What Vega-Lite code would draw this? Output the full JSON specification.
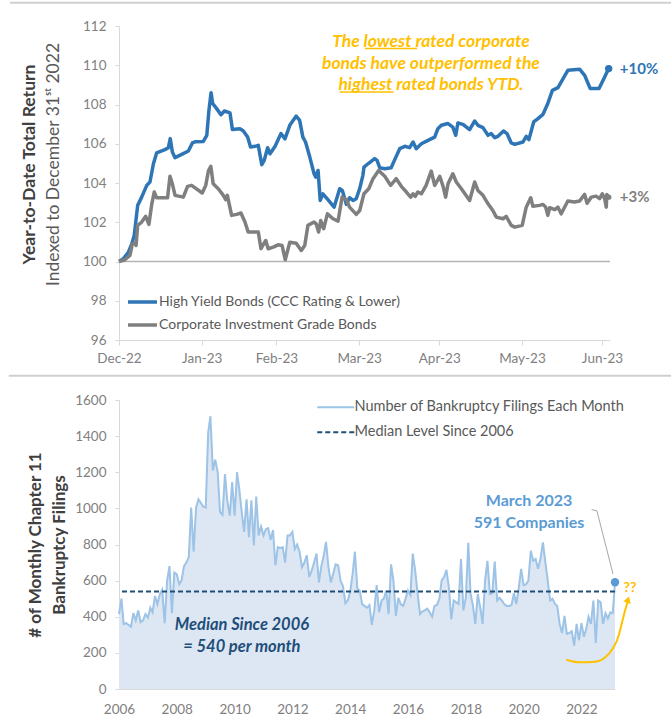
{
  "$schema": "https://vega.github.io/schema/vega-lite/v6.json",
  "padding": {"left": 7, "top": 1, "right": 0, "bottom": 0},
  "spacing": 9,
  "resolve": {"scale": {"color": "independent", "strokeDash": "independent"}, "legend": {"color": "independent", "strokeDash": "independent"}},
  "config": {
    "font": "Lato",
    "view": {"stroke": null},
    "axis": {"labelFont": "Lato", "titleFont": "Lato", "labelColor": "#808080", "labelFontSize": 13.5, "domainColor": "#d9d9d9", "tickColor": "#d9d9d9", "grid": false, "labelOverlap": false, "labelFlush": false},
    "legend": {"labelFont": "Lato", "labelColor": "#595959", "labelLimit": 500}
  },
  "datasets": {
    "bonds": [
      {"s":"HY","t":0,"v":100},{"s":"HY","t":1.6,"v":100.14},{"s":"HY","t":3.5,"v":100.47},{"s":"HY","t":4.8,"v":100.9},{"s":"HY","t":5.7,"v":101.33},{"s":"HY","t":7.0,"v":102.86},{"s":"HY","t":8.5,"v":103.28},{"s":"HY","t":10.4,"v":103.88},{"s":"HY","t":11.6,"v":104.05},{"s":"HY","t":12.9,"v":104.98},{"s":"HY","t":14.1,"v":105.53},{"s":"HY","t":17.2,"v":105.7},{"s":"HY","t":18.5,"v":105.8},{"s":"HY","t":19.2,"v":106.26},{"s":"HY","t":20.0,"v":105.58},{"s":"HY","t":21.0,"v":105.29},{"s":"HY","t":23.5,"v":105.46},{"s":"HY","t":26.0,"v":105.63},{"s":"HY","t":27.5,"v":106.04},{"s":"HY","t":28.5,"v":106.1},{"s":"HY","t":31.6,"v":106.12},{"s":"HY","t":32.9,"v":106.43},{"s":"HY","t":33.7,"v":107.7},{"s":"HY","t":34.5,"v":108.6},{"s":"HY","t":35.1,"v":108.05},{"s":"HY","t":36.6,"v":107.79},{"s":"HY","t":38.2,"v":107.48},{"s":"HY","t":39.5,"v":107.67},{"s":"HY","t":41.6,"v":107.57},{"s":"HY","t":42.5,"v":106.73},{"s":"HY","t":45.3,"v":106.77},{"s":"HY","t":46.6,"v":106.65},{"s":"HY","t":48.2,"v":106.34},{"s":"HY","t":49.3,"v":105.83},{"s":"HY","t":51.0,"v":105.87},{"s":"HY","t":52.2,"v":105.92},{"s":"HY","t":53.5,"v":104.93},{"s":"HY","t":54.4,"v":105.15},{"s":"HY","t":55.7,"v":105.8},{"s":"HY","t":56.6,"v":105.49},{"s":"HY","t":58.5,"v":105.87},{"s":"HY","t":60.7,"v":106.52},{"s":"HY","t":62.2,"v":106.25},{"s":"HY","t":64.0,"v":106.94},{"s":"HY","t":66.4,"v":107.41},{"s":"HY","t":67.7,"v":107.19},{"s":"HY","t":68.9,"v":106.34},{"s":"HY","t":69.9,"v":106.09},{"s":"HY","t":71.5,"v":105.32},{"s":"HY","t":73.1,"v":104.47},{"s":"HY","t":73.7,"v":104.3},{"s":"HY","t":74.6,"v":104.64},{"s":"HY","t":75.4,"v":103.11},{"s":"HY","t":76.4,"v":103.45},{"s":"HY","t":78.3,"v":103.15},{"s":"HY","t":80.6,"v":102.77},{"s":"HY","t":82.7,"v":103.71},{"s":"HY","t":83.7,"v":103.62},{"s":"HY","t":85.2,"v":102.91},{"s":"HY","t":86.4,"v":103.25},{"s":"HY","t":87.7,"v":103.11},{"s":"HY","t":88.9,"v":103.2},{"s":"HY","t":90.2,"v":103.71},{"s":"HY","t":91.4,"v":104.39},{"s":"HY","t":91.8,"v":104.81},{"s":"HY","t":93.3,"v":104.98},{"s":"HY","t":95.8,"v":105.24},{"s":"HY","t":96.7,"v":105.15},{"s":"HY","t":97.7,"v":104.78},{"s":"HY","t":99.6,"v":104.73},{"s":"HY","t":102.0,"v":104.78},{"s":"HY","t":103.5,"v":105.24},{"s":"HY","t":105.2,"v":105.75},{"s":"HY","t":107.1,"v":105.87},{"s":"HY","t":108.9,"v":105.8},{"s":"HY","t":110.2,"v":106.09},{"s":"HY","t":111.4,"v":105.75},{"s":"HY","t":113.3,"v":106.0},{"s":"HY","t":115.8,"v":106.17},{"s":"HY","t":118.3,"v":106.34},{"s":"HY","t":119.5,"v":106.77},{"s":"HY","t":120.8,"v":106.94},{"s":"HY","t":123.3,"v":107.03},{"s":"HY","t":125.1,"v":106.85},{"s":"HY","t":126.2,"v":106.43},{"s":"HY","t":127.0,"v":107.06},{"s":"HY","t":128.9,"v":106.99},{"s":"HY","t":131.4,"v":106.72},{"s":"HY","t":133.3,"v":107.16},{"s":"HY","t":134.5,"v":106.94},{"s":"HY","t":136.4,"v":106.82},{"s":"HY","t":138.3,"v":106.43},{"s":"HY","t":139.5,"v":106.52},{"s":"HY","t":140.8,"v":106.31},{"s":"HY","t":142.0,"v":106.38},{"s":"HY","t":144.1,"v":106.65},{"s":"HY","t":145.4,"v":106.52},{"s":"HY","t":147.0,"v":106.04},{"s":"HY","t":148.3,"v":105.97},{"s":"HY","t":151.4,"v":106.09},{"s":"HY","t":152.6,"v":106.38},{"s":"HY","t":153.6,"v":106.21},{"s":"HY","t":155.4,"v":107.11},{"s":"HY","t":157.0,"v":107.28},{"s":"HY","t":158.9,"v":107.5},{"s":"HY","t":160.7,"v":108.05},{"s":"HY","t":162.4,"v":108.72},{"s":"HY","t":164.5,"v":108.86},{"s":"HY","t":168.2,"v":109.74},{"s":"HY","t":172.6,"v":109.8},{"s":"HY","t":174.5,"v":109.49},{"s":"HY","t":176.6,"v":108.81},{"s":"HY","t":179.9,"v":108.81},{"s":"HY","t":182.0,"v":109.4},{"s":"HY","t":183.5,"v":109.83},
      {"s":"IG","t":0,"v":100},{"s":"IG","t":2.2,"v":100.09},{"s":"IG","t":4.1,"v":100.31},{"s":"IG","t":5.0,"v":100.9},{"s":"IG","t":6.0,"v":100.94},{"s":"IG","t":6.4,"v":100.82},{"s":"IG","t":7.0,"v":101.84},{"s":"IG","t":8.5,"v":102.01},{"s":"IG","t":10.0,"v":102.3},{"s":"IG","t":11.2,"v":101.89},{"s":"IG","t":12.3,"v":102.94},{"s":"IG","t":13.2,"v":103.54},{"s":"IG","t":14.1,"v":103.25},{"s":"IG","t":18.2,"v":103.25},{"s":"IG","t":19.1,"v":104.34},{"s":"IG","t":20.0,"v":103.96},{"s":"IG","t":21.0,"v":103.37},{"s":"IG","t":24.1,"v":103.28},{"s":"IG","t":25.7,"v":103.83},{"s":"IG","t":27.2,"v":103.88},{"s":"IG","t":31.2,"v":103.49},{"s":"IG","t":32.5,"v":103.88},{"s":"IG","t":33.5,"v":104.61},{"s":"IG","t":34.4,"v":104.85},{"s":"IG","t":35.3,"v":103.96},{"s":"IG","t":37.2,"v":103.71},{"s":"IG","t":39.1,"v":103.37},{"s":"IG","t":40.0,"v":103.15},{"s":"IG","t":40.6,"v":103.37},{"s":"IG","t":42.2,"v":102.35},{"s":"IG","t":44.1,"v":102.4},{"s":"IG","t":45.7,"v":102.47},{"s":"IG","t":47.2,"v":102.01},{"s":"IG","t":48.4,"v":101.5},{"s":"IG","t":52.2,"v":101.5},{"s":"IG","t":53.2,"v":100.65},{"s":"IG","t":54.1,"v":100.87},{"s":"IG","t":55.0,"v":101.07},{"s":"IG","t":55.9,"v":100.65},{"s":"IG","t":57.8,"v":100.73},{"s":"IG","t":59.6,"v":100.85},{"s":"IG","t":61.1,"v":100.82},{"s":"IG","t":62.3,"v":100.09},{"s":"IG","t":64.0,"v":100.98},{"s":"IG","t":66.4,"v":100.93},{"s":"IG","t":68.3,"v":100.56},{"s":"IG","t":69.6,"v":100.82},{"s":"IG","t":70.8,"v":101.84},{"s":"IG","t":73.1,"v":102.01},{"s":"IG","t":73.9,"v":101.92},{"s":"IG","t":74.8,"v":101.5},{"s":"IG","t":75.6,"v":102.09},{"s":"IG","t":76.7,"v":101.67},{"s":"IG","t":78.1,"v":102.43},{"s":"IG","t":80.2,"v":102.18},{"s":"IG","t":82.1,"v":102.06},{"s":"IG","t":83.6,"v":103.28},{"s":"IG","t":85.2,"v":103.15},{"s":"IG","t":86.4,"v":102.77},{"s":"IG","t":88.9,"v":102.4},{"s":"IG","t":90.2,"v":102.6},{"s":"IG","t":91.8,"v":103.45},{"s":"IG","t":93.6,"v":103.71},{"s":"IG","t":95.2,"v":104.22},{"s":"IG","t":97.3,"v":104.64},{"s":"IG","t":99.6,"v":104.34},{"s":"IG","t":101.8,"v":103.88},{"s":"IG","t":103.9,"v":104.22},{"s":"IG","t":105.8,"v":103.83},{"s":"IG","t":107.7,"v":103.54},{"s":"IG","t":109.3,"v":103.28},{"s":"IG","t":110.2,"v":103.45},{"s":"IG","t":111.0,"v":103.32},{"s":"IG","t":112.0,"v":103.54},{"s":"IG","t":113.3,"v":103.45},{"s":"IG","t":115.1,"v":103.88},{"s":"IG","t":117.0,"v":104.61},{"s":"IG","t":118.3,"v":103.88},{"s":"IG","t":120.2,"v":104.34},{"s":"IG","t":121.4,"v":103.85},{"s":"IG","t":122.4,"v":103.28},{"s":"IG","t":123.3,"v":103.96},{"s":"IG","t":125.1,"v":104.47},{"s":"IG","t":126.4,"v":104.05},{"s":"IG","t":128.3,"v":103.71},{"s":"IG","t":131.4,"v":103.11},{"s":"IG","t":133.3,"v":104.05},{"s":"IG","t":134.5,"v":103.62},{"s":"IG","t":136.4,"v":103.37},{"s":"IG","t":138.3,"v":102.94},{"s":"IG","t":140.1,"v":102.6},{"s":"IG","t":141.4,"v":102.26},{"s":"IG","t":143.9,"v":102.18},{"s":"IG","t":145.1,"v":102.3},{"s":"IG","t":147.0,"v":101.84},{"s":"IG","t":148.3,"v":101.75},{"s":"IG","t":151.1,"v":101.84},{"s":"IG","t":152.6,"v":102.77},{"s":"IG","t":154.3,"v":103.25},{"s":"IG","t":155.1,"v":102.81},{"s":"IG","t":157.6,"v":102.86},{"s":"IG","t":158.9,"v":102.91},{"s":"IG","t":159.9,"v":102.77},{"s":"IG","t":160.7,"v":102.35},{"s":"IG","t":161.4,"v":102.74},{"s":"IG","t":163.3,"v":102.64},{"s":"IG","t":164.5,"v":102.77},{"s":"IG","t":165.7,"v":102.43},{"s":"IG","t":168.2,"v":103.08},{"s":"IG","t":170.7,"v":103.03},{"s":"IG","t":172.6,"v":103.08},{"s":"IG","t":174.5,"v":103.42},{"s":"IG","t":175.4,"v":102.97},{"s":"IG","t":177.0,"v":103.28},{"s":"IG","t":178.8,"v":103.33},{"s":"IG","t":180.1,"v":103.2},{"s":"IG","t":181.1,"v":103.45},{"s":"IG","t":182.0,"v":103.2},{"s":"IG","t":182.6,"v":102.77},{"s":"IG","t":182.8,"v":103.42},{"s":"IG","t":183.5,"v":103.28}
    ],
    "bondEnds": [
      {"s":"HY","t":183.5,"v":109.83,"label":"+10%"},
      {"s":"IG","t":183.5,"v":103.28,"label":"+3%"}
    ],
    "filings": [
      {"d":"2006-01","n":415},{"d":"2006-02","n":500},{"d":"2006-03","n":360},{"d":"2006-04","n":365},{"d":"2006-05","n":355},{"d":"2006-06","n":345},{"d":"2006-07","n":420},{"d":"2006-08","n":380},{"d":"2006-09","n":435},{"d":"2006-10","n":370},{"d":"2006-11","n":380},{"d":"2006-12","n":415},
      {"d":"2007-01","n":395},{"d":"2007-02","n":450},{"d":"2007-03","n":425},{"d":"2007-04","n":515},{"d":"2007-05","n":470},{"d":"2007-06","n":525},{"d":"2007-07","n":550},{"d":"2007-08","n":365},{"d":"2007-09","n":600},{"d":"2007-10","n":680},{"d":"2007-11","n":420},{"d":"2007-12","n":645},
      {"d":"2008-01","n":635},{"d":"2008-02","n":580},{"d":"2008-03","n":600},{"d":"2008-04","n":680},{"d":"2008-05","n":700},{"d":"2008-06","n":730},{"d":"2008-07","n":1005},{"d":"2008-08","n":760},{"d":"2008-09","n":1005},{"d":"2008-10","n":1050},{"d":"2008-11","n":1030},{"d":"2008-12","n":1010},
      {"d":"2009-01","n":1005},{"d":"2009-02","n":1420},{"d":"2009-03","n":1510},{"d":"2009-04","n":1210},{"d":"2009-05","n":1270},{"d":"2009-06","n":1200},{"d":"2009-07","n":980},{"d":"2009-08","n":965},{"d":"2009-09","n":1190},{"d":"2009-10","n":1040},{"d":"2009-11","n":960},{"d":"2009-12","n":1145},
      {"d":"2010-01","n":960},{"d":"2010-02","n":1200},{"d":"2010-03","n":1105},{"d":"2010-04","n":980},{"d":"2010-05","n":870},{"d":"2010-06","n":1050},{"d":"2010-07","n":840},{"d":"2010-08","n":1045},{"d":"2010-09","n":795},{"d":"2010-10","n":1065},{"d":"2010-11","n":850},{"d":"2010-12","n":900},
      {"d":"2011-01","n":850},{"d":"2011-02","n":885},{"d":"2011-03","n":890},{"d":"2011-04","n":825},{"d":"2011-05","n":880},{"d":"2011-06","n":685},{"d":"2011-07","n":785},{"d":"2011-08","n":780},{"d":"2011-09","n":785},{"d":"2011-10","n":700},{"d":"2011-11","n":850},{"d":"2011-12","n":850},
      {"d":"2012-01","n":870},{"d":"2012-02","n":775},{"d":"2012-03","n":800},{"d":"2012-04","n":760},{"d":"2012-05","n":675},{"d":"2012-06","n":700},{"d":"2012-07","n":740},{"d":"2012-08","n":620},{"d":"2012-09","n":655},{"d":"2012-10","n":700},{"d":"2012-11","n":750},{"d":"2012-12","n":590},
      {"d":"2013-01","n":680},{"d":"2013-02","n":740},{"d":"2013-03","n":815},{"d":"2013-04","n":675},{"d":"2013-05","n":590},{"d":"2013-06","n":640},{"d":"2013-07","n":690},{"d":"2013-08","n":685},{"d":"2013-09","n":600},{"d":"2013-10","n":570},{"d":"2013-11","n":475},{"d":"2013-12","n":490},
      {"d":"2014-01","n":540},{"d":"2014-02","n":640},{"d":"2014-03","n":760},{"d":"2014-04","n":555},{"d":"2014-05","n":545},{"d":"2014-06","n":470},{"d":"2014-07","n":460},{"d":"2014-08","n":450},{"d":"2014-09","n":465},{"d":"2014-10","n":355},{"d":"2014-11","n":435},{"d":"2014-12","n":575},
      {"d":"2015-01","n":425},{"d":"2015-02","n":490},{"d":"2015-03","n":500},{"d":"2015-04","n":545},{"d":"2015-05","n":415},{"d":"2015-06","n":690},{"d":"2015-07","n":600},{"d":"2015-08","n":405},{"d":"2015-09","n":505},{"d":"2015-10","n":470},{"d":"2015-11","n":460},{"d":"2015-12","n":500},
      {"d":"2016-01","n":545},{"d":"2016-02","n":520},{"d":"2016-03","n":750},{"d":"2016-04","n":655},{"d":"2016-05","n":530},{"d":"2016-06","n":415},{"d":"2016-07","n":430},{"d":"2016-08","n":435},{"d":"2016-09","n":445},{"d":"2016-10","n":425},{"d":"2016-11","n":400},{"d":"2016-12","n":460},
      {"d":"2017-01","n":465},{"d":"2017-02","n":500},{"d":"2017-03","n":600},{"d":"2017-04","n":620},{"d":"2017-05","n":660},{"d":"2017-06","n":560},{"d":"2017-07","n":385},{"d":"2017-08","n":490},{"d":"2017-09","n":480},{"d":"2017-10","n":470},{"d":"2017-11","n":720},{"d":"2017-12","n":435},
      {"d":"2018-01","n":505},{"d":"2018-02","n":810},{"d":"2018-03","n":530},{"d":"2018-04","n":460},{"d":"2018-05","n":360},{"d":"2018-06","n":525},{"d":"2018-07","n":455},{"d":"2018-08","n":360},{"d":"2018-09","n":600},{"d":"2018-10","n":710},{"d":"2018-11","n":525},{"d":"2018-12","n":530},
      {"d":"2019-01","n":705},{"d":"2019-02","n":490},{"d":"2019-03","n":505},{"d":"2019-04","n":490},{"d":"2019-05","n":470},{"d":"2019-06","n":460},{"d":"2019-07","n":460},{"d":"2019-08","n":465},{"d":"2019-09","n":530},{"d":"2019-10","n":470},{"d":"2019-11","n":560},{"d":"2019-12","n":665},
      {"d":"2020-01","n":575},{"d":"2020-02","n":580},{"d":"2020-03","n":600},{"d":"2020-04","n":765},{"d":"2020-05","n":710},{"d":"2020-06","n":720},{"d":"2020-07","n":665},{"d":"2020-08","n":720},{"d":"2020-09","n":812},{"d":"2020-10","n":705},{"d":"2020-11","n":600},{"d":"2020-12","n":490},
      {"d":"2021-01","n":500},{"d":"2021-02","n":470},{"d":"2021-03","n":460},{"d":"2021-04","n":360},{"d":"2021-05","n":310},{"d":"2021-06","n":405},{"d":"2021-07","n":305},{"d":"2021-08","n":310},{"d":"2021-09","n":320},{"d":"2021-10","n":240},{"d":"2021-11","n":360},{"d":"2021-12","n":270},
      {"d":"2022-01","n":365},{"d":"2022-02","n":290},{"d":"2022-03","n":330},{"d":"2022-04","n":400},{"d":"2022-05","n":360},{"d":"2022-06","n":490},{"d":"2022-07","n":255},{"d":"2022-08","n":490},{"d":"2022-09","n":480},{"d":"2022-10","n":360},{"d":"2022-11","n":420},{"d":"2022-12","n":390},
      {"d":"2023-01","n":425},{"d":"2023-02","n":420},{"d":"2023-03","n":591}
    ],
    "leader": [
      {"d":"2022-05-10","v":993},{"d":"2022-07-15","v":987},{"d":"2023-02-04","v":637}
    ],
    "arrow": [
      {"d":"2021-06-24","v":162},{"d":"2021-11-28","v":148},{"d":"2022-06-25","v":151},{"d":"2022-12-12","v":194},{"d":"2023-04-16","v":295},{"d":"2023-06-19","v":406},{"d":"2023-08-05","v":480}
    ],
    "arrowTip": [{"d":"2023-08-12","v":495}],
    "lastFiling": [{"d":"2023-03","n":591}],
    "one": [{}]
  },
  "vconcat": [
    {
      "width": 491,
      "height": 314,
      "layer": [
        {
          "data": {"name": "one"},
          "mark": {"type": "rule", "color": "#b4b4b4", "strokeWidth": 1.5},
          "encoding": {
            "y": {"datum": 100, "type": "quantitative", "scale": {"domain": [96, 112], "nice": false, "zero": false},
              "axis": {"orient": "left", "title": "Year-to-Date Total Return", "titleFontWeight": "bold", "titleFontSize": 17.5, "titleColor": "#404040", "labels": false, "ticks": false, "domain": false, "offset": 70, "titlePadding": 11, "titleY": 138}}
          }
        },
        {
          "layer": [
            {
              "data": {"name": "one"},
              "mark": {"type": "rule", "color": "#cfcfcf", "strokeWidth": 2},
              "encoding": {
                "x": {"datum": -40.8, "type": "quantitative"},
                "x2": {"datum": 207.5},
                "y": {"datum": 113.19, "type": "quantitative"}
              }
            },
            {
              "data": {"name": "bonds"},
              "mark": {"type": "line", "strokeWidth": 3.5, "strokeJoin": "round"},
              "encoding": {
                "x": {"field": "t", "type": "quantitative", "scale": {"domain": [0, 184], "nice": false, "zero": false},
                  "axis": {"values": [0, 31, 59, 90, 120, 151, 181], "labelExpr": "datum.value==0?'Dec-22':datum.value==31?'Jan-23':datum.value==59?'Feb-23':datum.value==90?'Mar-23':datum.value==120?'Apr-23':datum.value==151?'May-23':'Jun-23'", "title": null, "tickSize": 5, "labelPadding": 6, "labelOverlap": false}},
                "y": {"field": "v", "type": "quantitative", "scale": {"domain": [96, 112], "nice": false, "zero": false},
                  "axis": {"orient": "left", "values": [96, 98, 100, 102, 104, 106, 108, 110, 112], "tickCount": 9, "labelOverlap": false, "title": "Indexed to December 31ˢᵗ 2022", "titleFontWeight": "normal", "titleFontSize": 17.5, "titleColor": "#595959", "titlePadding": 20, "titleY": 138, "tickSize": 4, "labelPadding": 9}},
                "color": {"field": "s", "type": "nominal", "scale": {"domain": ["HY", "IG"], "range": ["#2e75b6", "#7f7f7f"]},
                  "legend": {"orient": "none", "legendX": 7, "legendY": 268, "title": null, "symbolType": "M-1,0H3.83", "symbolSize": 144, "symbolStrokeWidth": 3.5, "labelOffset": 17, "labelFontSize": 14, "rowPadding": 8, "padding": 0,
                    "labelExpr": "datum.label=='HY'?'High Yield Bonds (CCC Rating & Lower)':'Corporate Investment Grade Bonds'"}}
              }
            },
            {
              "data": {"name": "bondEnds"},
              "mark": {"type": "point", "filled": true, "opacity": 1},
              "encoding": {
                "x": {"field": "t", "type": "quantitative"},
                "y": {"field": "v", "type": "quantitative"},
                "color": {"field": "s", "type": "nominal"},
                "size": {"condition": {"test": "datum.s=='HY'", "value": 55}, "value": 30}
              }
            },
            {
              "data": {"name": "bondEnds"},
              "mark": {"type": "text", "align": "left", "baseline": "middle", "fontWeight": "bold", "fontSize": 15},
              "encoding": {
                "x": {"datum": 187.7, "type": "quantitative"},
                "y": {"field": "v", "type": "quantitative"},
                "text": {"field": "label"},
                "color": {"field": "s", "type": "nominal"}
              }
            },
            {
              "data": {"name": "one"},
              "mark": {"type": "text", "align": "center", "baseline": "middle", "fontWeight": "bold", "fontStyle": "italic", "fontSize": 17.5, "lineHeight": 21.5, "color": "#ffc000",
                "text": ["The lowest rated corporate", "bonds have outperformed the", "highest rated bonds YTD."]},
              "encoding": {
                "x": {"datum": 116.9, "type": "quantitative"},
                "y": {"datum": 111.17, "type": "quantitative"}
              }
            },
            {
              "data": {"name": "one"},
              "mark": {"type": "rule", "color": "#ffc000", "strokeWidth": 1.5},
              "encoding": {
                "x": {"datum": 92.2, "type": "quantitative"},
                "x2": {"datum": 111.7},
                "y": {"datum": 110.85, "type": "quantitative"}
              }
            },
            {
              "data": {"name": "one"},
              "mark": {"type": "rule", "color": "#ffc000", "strokeWidth": 1.5},
              "encoding": {
                "x": {"datum": 82.7, "type": "quantitative"},
                "x2": {"datum": 102.9},
                "y": {"datum": 108.64, "type": "quantitative"}
              }
            }
          ]
        }
      ],
      "resolve": {"scale": {"y": "independent"}, "axis": {"y": "independent"}}
    },
    {
      "width": 496,
      "height": 289,
      "layer": [
        {
          "data": {"name": "one"},
          "mark": {"type": "rule", "color": "#cfcfcf", "strokeWidth": 2},
          "encoding": {
            "x": {"datum": {"year": 2002, "month": 3, "date": 10, "utc": true}, "type": "temporal"},
            "x2": {"datum": {"year": 2025, "month": 2, "date": 15, "utc": true}},
            "y": {"datum": 1734, "type": "quantitative"}
          }
        },
        {
          "data": {"name": "filings"},
          "mark": {"type": "area", "color": "#dde7f4", "opacity": 1},
          "encoding": {
            "x": {"field": "d", "type": "temporal",
              "scale": {"type": "utc", "domain": [{"year": 2006, "month": 1, "date": 1, "utc": true}, {"year": 2023, "month": 3, "date": 1, "utc": true}], "nice": false},
              "axis": {"values": [{"year": 2006, "month": 1, "date": 1, "utc": true}, {"year": 2008, "month": 1, "date": 1, "utc": true}, {"year": 2010, "month": 1, "date": 1, "utc": true}, {"year": 2012, "month": 1, "date": 1, "utc": true}, {"year": 2014, "month": 1, "date": 1, "utc": true}, {"year": 2016, "month": 1, "date": 1, "utc": true}, {"year": 2018, "month": 1, "date": 1, "utc": true}, {"year": 2020, "month": 1, "date": 1, "utc": true}, {"year": 2022, "month": 1, "date": 1, "utc": true}],
                "format": "%Y", "title": null, "ticks": false, "tickSize": 0, "labelPadding": 13, "labelOverlap": false}},
            "y": {"field": "n", "type": "quantitative", "scale": {"domain": [0, 1600], "nice": false},
              "axis": {"values": [0, 200, 400, 600, 800, 1000, 1200, 1400, 1600], "tickCount": 9, "labelOverlap": false, "format": "d", "title": ["# of Monthly Chapter 11", "Bankruptcy Filings"], "titleFontSize": 17, "titleFontWeight": "bold", "titleColor": "#404040", "titleLineHeight": 24, "titlePadding": 6, "tickSize": 4, "labelPadding": 9}}
          }
        },
        {
          "data": {"name": "filings"},
          "mark": {"type": "line", "strokeWidth": 2},
          "encoding": {
            "x": {"field": "d", "type": "temporal"},
            "y": {"field": "n", "type": "quantitative"},
            "color": {"datum": "Number of Bankruptcy Filings Each Month", "type": "nominal",
              "scale": {"domain": ["Number of Bankruptcy Filings Each Month", "Median Level Since 2006"], "range": ["#9dc3e6", "#1f4e79"]},
              "legend": {"orient": "none", "legendX": 197, "legendY": 0, "title": null, "symbolType": "M-1,0H5.17", "symbolSize": 144, "symbolStrokeWidth": 2, "labelOffset": 24, "labelFontSize": 14.5, "rowPadding": 10, "padding": 0}},
            "strokeDash": {"datum": "Number of Bankruptcy Filings Each Month", "type": "nominal",
              "scale": {"domain": ["Number of Bankruptcy Filings Each Month", "Median Level Since 2006"], "range": [[1, 0], [5, 3]]},
              "legend": {"orient": "none", "legendX": 197, "legendY": 0, "title": null, "symbolType": "M-1,0H5.17", "symbolSize": 144, "symbolStrokeWidth": 2, "labelOffset": 24, "labelFontSize": 14.5, "rowPadding": 10, "padding": 0}}
          }
        },
        {
          "data": {"name": "one"},
          "mark": {"type": "rule", "strokeWidth": 2},
          "encoding": {
            "y": {"datum": 540, "type": "quantitative"},
            "color": {"datum": "Median Level Since 2006", "type": "nominal"},
            "strokeDash": {"datum": "Median Level Since 2006", "type": "nominal"}
          }
        },
        {
          "data": {"name": "leader"},
          "mark": {"type": "line", "color": "#a6a6a6", "strokeWidth": 1},
          "encoding": {
            "x": {"field": "d", "type": "temporal"},
            "y": {"field": "v", "type": "quantitative"}
          }
        },
        {
          "data": {"name": "lastFiling"},
          "mark": {"type": "point", "filled": true, "color": "#5b9bd5", "size": 70, "opacity": 1},
          "encoding": {
            "x": {"field": "d", "type": "temporal"},
            "y": {"field": "n", "type": "quantitative"}
          }
        },
        {
          "data": {"name": "arrow"},
          "mark": {"type": "line", "color": "#ffc000", "strokeWidth": 2, "interpolate": "monotone"},
          "encoding": {
            "x": {"field": "d", "type": "temporal"},
            "y": {"field": "v", "type": "quantitative"}
          }
        },
        {
          "data": {"name": "arrowTip"},
          "mark": {"type": "point", "shape": "triangle-up", "filled": true, "color": "#ffc000", "size": 60, "angle": 18, "opacity": 1},
          "encoding": {
            "x": {"field": "d", "type": "temporal"},
            "y": {"field": "v", "type": "quantitative"}
          }
        },
        {
          "data": {"name": "one"},
          "mark": {"type": "text", "align": "center", "baseline": "middle", "fontWeight": "bold", "fontStyle": "italic", "fontSize": 16.5, "lineHeight": 22, "color": "#1f4e79",
            "text": ["Median Since 2006", "=  540 per month"]},
          "encoding": {
            "x": {"datum": {"year": 2010, "month": 4, "date": 3, "utc": true}, "type": "temporal"},
            "y": {"datum": 354, "type": "quantitative"}
          }
        },
        {
          "data": {"name": "one"},
          "mark": {"type": "text", "align": "center", "baseline": "middle", "fontWeight": "bold", "fontSize": 16, "lineHeight": 22, "color": "#5b9bd5",
            "text": ["March 2023", "591 Companies"]},
          "encoding": {
            "x": {"datum": {"year": 2020, "month": 3, "date": 10, "utc": true}, "type": "temporal"},
            "y": {"datum": 1041, "type": "quantitative"}
          }
        },
        {
          "data": {"name": "one"},
          "mark": {"type": "text", "align": "center", "baseline": "middle", "fontWeight": "bold", "fontSize": 14, "color": "#ffc000", "text": "??"},
          "encoding": {
            "x": {"datum": {"year": 2023, "month": 9, "date": 7, "utc": true}, "type": "temporal"},
            "y": {"datum": 559, "type": "quantitative"}
          }
        }
      ]
    }
  ]
}
